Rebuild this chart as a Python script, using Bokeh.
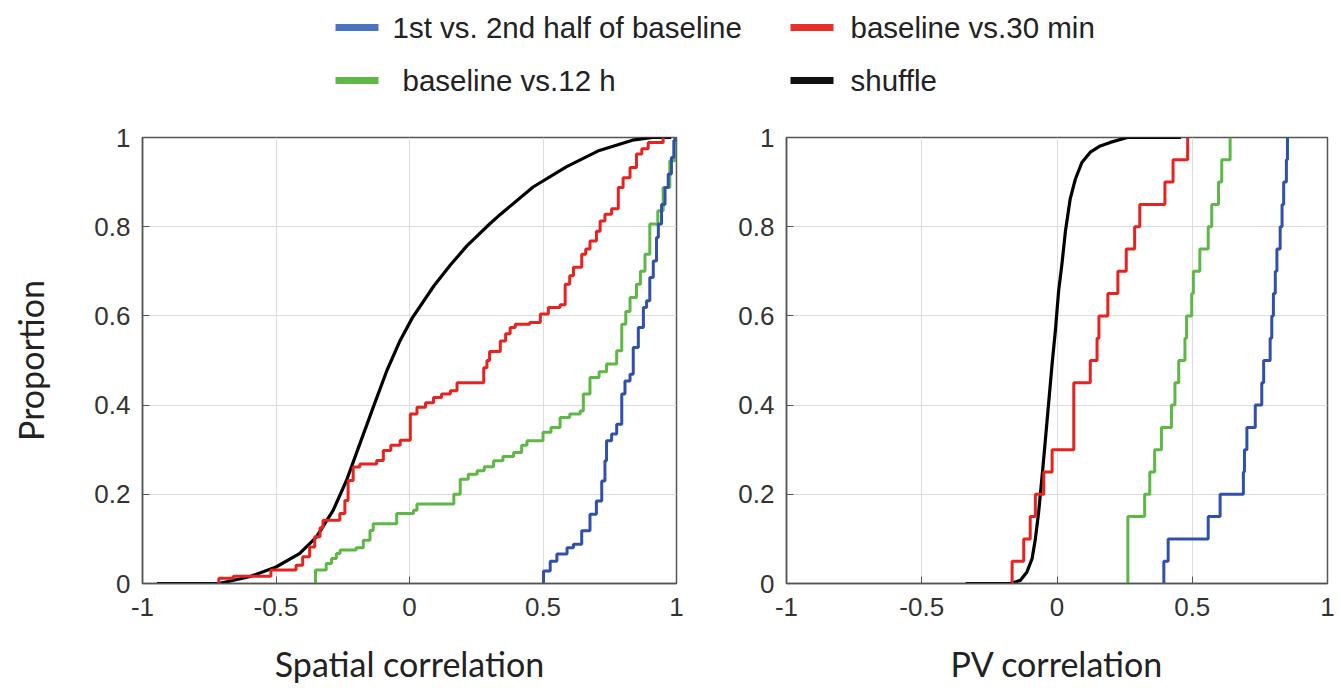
from bokeh.plotting import figure
from bokeh.layouts import column, row
from bokeh.models import Range1d, FixedTicker
from bokeh.embed import file_html
from bokeh.resources import INLINE
from bokeh.core.properties import value

# ---------------- data ----------------
series_names = ["1st vs. 2nd half of baseline", "baseline vs.30 min", "baseline vs.12 h", "shuffle"]
line_colors = ["#3050AC", "#E8231F", "#5DB846", "#000000"]
legend_colors = ["#4A74C0", "#E8302A", "#5DB846", "#111111"]

x_ticks = [-1, -0.5, 0, 0.5, 1]
x_tick_labels = ["-1", "-0.5", "0", "0.5", "1"]
y_ticks = [0, 0.2, 0.4, 0.6, 0.8, 1.0]
y_tick_labels = ["0", "0.2", "0.4", "0.6", "0.8", "1"]

# Left panel (spatial correlation): step-curve corners (x where the CDF jumps, level after the jump)
sp_red_x = [-0.714, -0.66, -0.519, -0.425, -0.40, -0.374, -0.355, -0.335, -0.324, -0.261, -0.242,
            -0.23, -0.211, -0.186, -0.123, -0.098, -0.07, -0.035, 0.003, 0.028, 0.06, 0.09, 0.12,
            0.153, 0.178, 0.278, 0.29, 0.30, 0.34, 0.36, 0.377, 0.396, 0.45, 0.49, 0.52, 0.564, 0.583,
            0.60, 0.614, 0.645, 0.66, 0.676, 0.70, 0.714, 0.732, 0.757, 0.782, 0.80, 0.826, 0.85,
            0.87, 0.894, 0.95]
sp_red_y = [0.012, 0.016, 0.03, 0.041, 0.06, 0.082, 0.105, 0.125, 0.142, 0.157, 0.186,
            0.231, 0.261, 0.268, 0.276, 0.298, 0.31, 0.321, 0.38, 0.395, 0.405, 0.417, 0.425,
            0.432, 0.45, 0.484, 0.5, 0.52, 0.544, 0.56, 0.574, 0.581, 0.585, 0.604, 0.619, 0.625, 0.671,
            0.69, 0.709, 0.738, 0.75, 0.768, 0.79, 0.813, 0.828, 0.84, 0.888, 0.91, 0.933, 0.963,
            0.975, 0.989, 1.0]

sp_green_x = [-0.352, -0.312, -0.292, -0.274, -0.26, -0.2, -0.173, -0.148, -0.136, -0.048, 0.015,
              0.028, 0.166, 0.19, 0.22, 0.253, 0.28, 0.315, 0.35, 0.39, 0.42, 0.44, 0.50, 0.53, 0.564,
              0.60, 0.639, 0.651, 0.676, 0.71, 0.738, 0.776, 0.795, 0.81, 0.826, 0.85, 0.865, 0.882,
              0.90, 0.93, 0.95, 0.975, 0.994]
sp_green_y = [0.03, 0.045, 0.056, 0.067, 0.075, 0.08, 0.097, 0.119, 0.134, 0.157, 0.164,
              0.178, 0.2, 0.234, 0.245, 0.253, 0.262, 0.275, 0.285, 0.294, 0.31, 0.32, 0.339, 0.35, 0.372,
              0.38, 0.387, 0.425, 0.462, 0.475, 0.492, 0.522, 0.581, 0.61, 0.641, 0.671, 0.70, 0.738,
              0.806, 0.836, 0.888, 0.948, 1.0]

sp_blue_x = [0.502, 0.527, 0.552, 0.59, 0.614, 0.645, 0.676, 0.70, 0.72, 0.732, 0.738, 0.757, 0.776,
             0.795, 0.807, 0.826, 0.838, 0.857, 0.876, 0.888, 0.90, 0.913, 0.925, 0.932, 0.944, 0.957,
             0.969, 0.981, 0.99, 0.995]
sp_blue_y = [0.028, 0.05, 0.066, 0.08, 0.088, 0.118, 0.155, 0.185, 0.23, 0.275, 0.32, 0.335, 0.357,
             0.425, 0.454, 0.469, 0.529, 0.574, 0.619, 0.634, 0.686, 0.723, 0.776, 0.806, 0.85, 0.888,
             0.918, 0.955, 0.993, 1.0]

sp_shuffle_x = [-0.946, -0.714, -0.6, -0.5, -0.412, -0.349, -0.286, -0.236, -0.186, -0.136, -0.085,
                -0.035, 0.01, 0.091, 0.153, 0.215, 0.30, 0.339, 0.463, 0.587, 0.711, 0.835, 0.91, 0.98]
sp_shuffle_y = [0.0, 0.0, 0.015, 0.037, 0.067, 0.104, 0.164, 0.231, 0.313, 0.395, 0.477,
                0.545, 0.595, 0.667, 0.714, 0.757, 0.806, 0.827, 0.889, 0.934, 0.971, 0.994, 1.0, 1.0]

# Right panel (PV correlation): 20 sorted values per comparison
pv_blue = [0.395, 0.411, 0.559, 0.603, 0.689, 0.693, 0.702, 0.733, 0.757, 0.764,
           0.788, 0.794, 0.80, 0.807, 0.813, 0.825, 0.832, 0.838, 0.848, 0.852]
pv_green = [0.262, 0.262, 0.262, 0.324, 0.343, 0.361, 0.386, 0.423, 0.436, 0.450,
            0.473, 0.479, 0.498, 0.504, 0.528, 0.559, 0.572, 0.597, 0.609, 0.640]
pv_red = [-0.166, -0.123, -0.099, -0.080, -0.049, -0.018, 0.062, 0.062, 0.062, 0.123,
          0.148, 0.155, 0.188, 0.225, 0.256, 0.287, 0.306, 0.399, 0.429, 0.483]
pv_shuffle_x = [-0.338, -0.173, -0.136, -0.111, -0.092, -0.08, -0.068, -0.055, -0.043, -0.031,
                -0.018, -0.006, 0.006, 0.018, 0.031, 0.049, 0.068, 0.092, 0.123, 0.16, 0.197,
                0.26, 0.458]
pv_shuffle_y = [0.0, 0.0, 0.007, 0.026, 0.056, 0.1, 0.159, 0.241, 0.322, 0.404,
                0.493, 0.567, 0.656, 0.715, 0.789, 0.863, 0.907, 0.944, 0.967, 0.981, 0.989,
                1.0, 1.0]

x_labels = ["Spatial correlation", "PV correlation"]
y_label = "Proportion"

TICK_FONT = "Liberation Sans"
LABEL_FONT = "Lato"


def style_panel(p, xlabel, ylabel):
    p.xaxis.ticker = FixedTicker(ticks=x_ticks)
    p.yaxis.ticker = FixedTicker(ticks=y_ticks)
    p.xaxis.major_label_overrides = dict(zip(x_ticks, x_tick_labels))
    p.yaxis.major_label_overrides = dict(zip(y_ticks, y_tick_labels))
    for ax in (p.xaxis, p.yaxis):
        ax.major_label_text_font = TICK_FONT
        ax.major_label_text_font_size = "26px"
        ax.major_label_text_color = "#333333"
        ax.major_tick_in = 7
        ax.major_tick_out = 0
        ax.minor_tick_line_color = None
        ax.axis_line_color = "#555555"
        ax.axis_line_width = 1.5
        ax.major_tick_line_color = "#555555"
        ax.axis_label_text_font = LABEL_FONT
        ax.axis_label_text_font_style = "normal"
        ax.axis_label_text_color = "#222222"
        ax.axis_label_text_font_size = "34px"
    p.xaxis.major_label_standoff = 14
    p.yaxis.major_label_standoff = 12
    p.xaxis.axis_label = xlabel
    p.xaxis.axis_label_standoff = 24
    if ylabel:
        p.yaxis.axis_label = ylabel
        p.yaxis.axis_label_standoff = 40
    p.grid.grid_line_color = "#dddddd"
    p.grid.grid_line_width = 1
    p.outline_line_color = "#555555"
    p.outline_line_width = 1.5
    p.background_fill_color = "white"
    p.border_fill_color = "white"


def step_xy(xs, ys):
    return [xs[0]] + list(xs), [0.0] + list(ys)


# ---------------- left panel ----------------
pL = figure(width=720, height=574, x_range=Range1d(-1, 1), y_range=Range1d(0, 1),
            output_backend="svg", toolbar_location=None,
            min_border_left=142, min_border_right=44, min_border_top=17, min_border_bottom=111)
style_panel(pL, x_labels[0], y_label)

pL.line(sp_shuffle_x, sp_shuffle_y, line_color=line_colors[3], line_width=3.2, line_join="round")
x, y = step_xy(sp_red_x, sp_red_y)
pL.step(x, y, mode="after", line_color=line_colors[1], line_width=3)
x, y = step_xy(sp_green_x, sp_green_y)
pL.step(x, y, mode="after", line_color=line_colors[2], line_width=3)
x, y = step_xy(sp_blue_x, sp_blue_y)
pL.step(x, y, mode="after", line_color=line_colors[0], line_width=3)

# ---------------- right panel ----------------
pR = figure(width=621, height=574, x_range=Range1d(-1, 1), y_range=Range1d(0, 1),
            output_backend="svg", toolbar_location=None,
            min_border_left=66, min_border_right=14, min_border_top=17, min_border_bottom=111)
style_panel(pR, x_labels[1], None)


def ecdf(vals):
    n = len(vals)
    return [(i + 1) / n for i in range(n)]


pR.line(pv_shuffle_x, pv_shuffle_y, line_color=line_colors[3], line_width=3.2, line_join="round")
for vals, col in ((pv_red, line_colors[1]), (pv_green, line_colors[2]), (pv_blue, line_colors[0])):
    x, y = step_xy(vals, ecdf(vals))
    pR.step(x, y, mode="after", line_color=col, line_width=3)

# ---------------- legend strip ----------------
pLeg = figure(width=1341, height=120, x_range=Range1d(0, 1341), y_range=Range1d(120, 0),
              output_backend="svg", toolbar_location=None,
              min_border_left=0, min_border_right=0, min_border_top=0, min_border_bottom=0)
pLeg.axis.visible = False
pLeg.grid.visible = False
pLeg.outline_line_color = None

leg_swatch_x0 = [335, 790, 335, 790]
leg_text_x = [392, 850, 402, 850]
leg_y = [27, 27, 80, 80]
order = [0, 1, 2, 3]
pLeg.segment(x0=leg_swatch_x0, y0=leg_y, x1=[v + 43 for v in leg_swatch_x0], y1=leg_y,
             line_color=[legend_colors[i] for i in order], line_width=7)
pLeg.text(x=leg_text_x, y=leg_y, text=[series_names[i] for i in order],
          text_font=value(TICK_FONT), text_font_size="29.5px", text_color="#222222",
          text_baseline="middle", text_align="left")

layout = column(pLeg, row(pL, pR, spacing=0), spacing=0)
open("out.html", "w").write(file_html(layout, INLINE))
